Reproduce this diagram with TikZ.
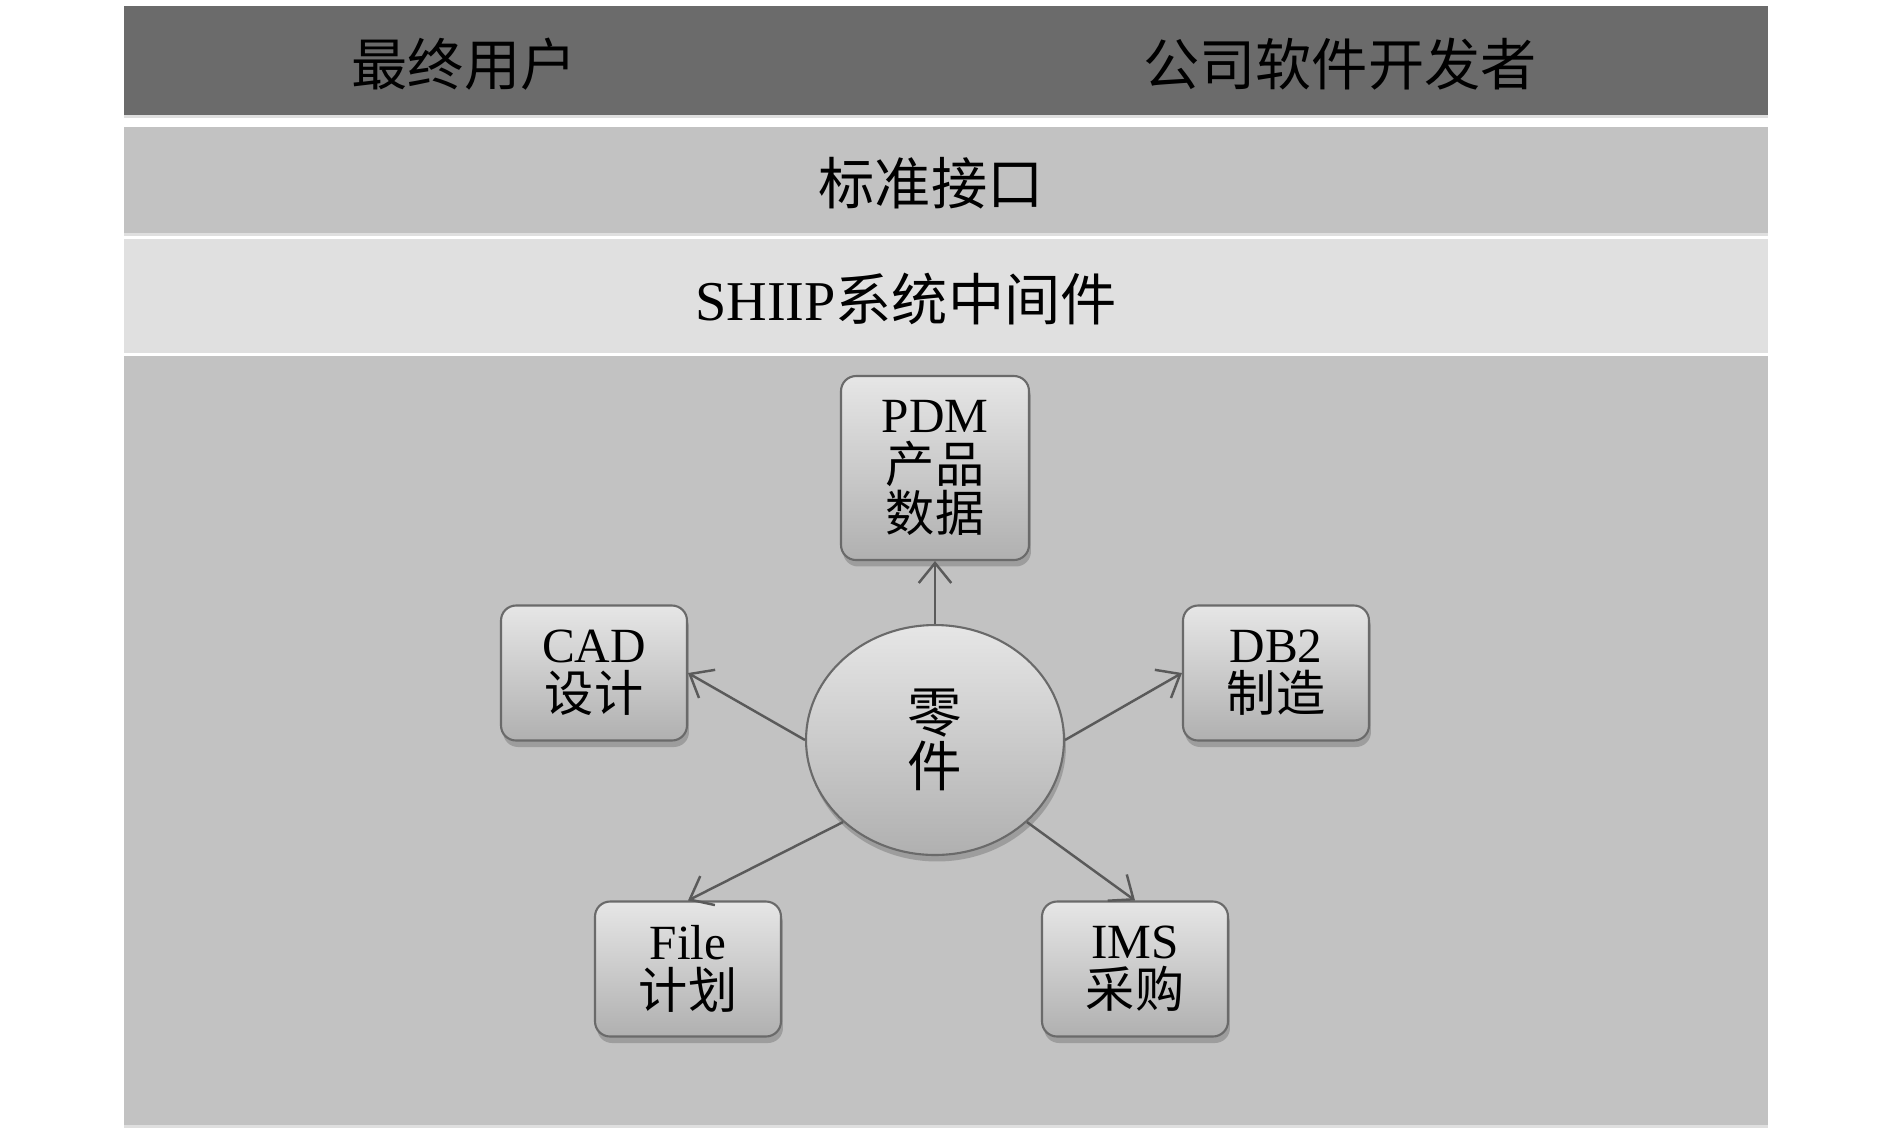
\documentclass[tikz,border=0pt]{standalone}
\usepackage{fontspec}
\setmainfont{Liberation Serif}
\newfontfamily\cjk{Noto Sans CJK SC}
\usetikzlibrary{arrows.meta,shapes.geometric,shadows}
\definecolor{darkband}{HTML}{6B6B6B}
\definecolor{midband}{HTML}{C2C2C2}
\definecolor{lightband}{HTML}{E0E0E0}
\definecolor{boxtop}{HTML}{E6E6E6}
\definecolor{boxbot}{HTML}{B0B0B0}
\definecolor{boxline}{HTML}{6A6A6A}
\definecolor{linkgray}{HTML}{5A5A5A}
\begin{document}
\begin{tikzpicture}[x=0.02cm, y=-0.02cm, thick,
    band/.style = {inner sep=0pt, minimum width=32.88cm, drop shadow={shadow xshift=0pt, shadow yshift=-0.6mm, opacity=0.25}},
    title/.style = {font=\cjk\fontsize{32}{34}\selectfont},
    main/.style = {draw=boxline, line width=1.2pt, rounded corners=0.3cm, top color=boxtop, bottom color=boxbot, minimum width=3.72cm, minimum height=2.7cm, inner sep=0pt, align=center, font=\fontsize{28}{28}\selectfont, drop shadow={shadow xshift=0.4mm, shadow yshift=-1.3mm, opacity=0.55}},
    link/.style = {draw=linkgray, line width=1.4pt, -{Straight Barb[length=4mm, width=6.5mm]}}
    ]
    \useasboundingbox (0,0) rectangle (1890,1134);

    % layers
    \node[band, fill=darkband, minimum height=2.18cm] (b1) at (946,60.5) {};
    \node[band, fill=midband, minimum height=2.12cm] (b2) at (946,180) {};
    \node[band, fill=lightband, minimum height=2.22cm] (b3) at (946,294.5) {};
    \node[band, fill=midband, minimum height=15.38cm] (b4) at (946,740.5) {};

    \node[title] (user) at (464,64) {最终用户};
    \node[title] (dev) at (1340,64) {公司软件开发者};
    \node[title] (api) at (931,183) {标准接口};
    \node[font=\fontsize{32}{34}\selectfont] (mid) at (906,299) {SHIIP{\cjk 系统中间件}};

    % part and its systems
    \node[main, ellipse, rounded corners=0pt, minimum width=5.16cm, minimum height=4.6cm, font=\cjk\fontsize{31}{31}\selectfont] (0) at (935,740) {零\\件};
    \node[main, minimum width=3.76cm, minimum height=3.68cm] (1) at (935,468) {PDM\\{\cjk 产品}\\{\cjk 数据}};
    \node[main] (2) at (594,673) {CAD\\{\cjk 设计}};
    \node[main] (3) at (1276,673) {DB2\\{\cjk 制造}};
    \node[main] (4) at (688,969) {File\\{\cjk 计划}};
    \node[main] (5) at (1135,969) {IMS\\{\cjk 采购}};

    \draw[link] (0) -- (1);
    \draw[link] (0.west) -- (2.east);
    \draw[link] (0.east) -- (3.west);
    \draw[link] (0.south west) -- (4.north);
    \draw[link] (0.south east) -- (5.north);

\end{tikzpicture}
\end{document}
